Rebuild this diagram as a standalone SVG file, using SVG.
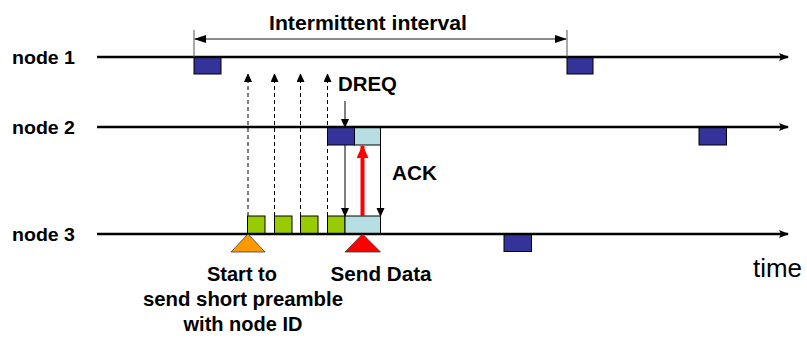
<svg xmlns="http://www.w3.org/2000/svg" width="807" height="338" viewBox="0 0 807 338">
  <defs>
    <style>
      .lbl { font-family: "Liberation Sans", Arial, Helvetica, sans-serif; font-weight: bold; fill: #000; }
      .axis { stroke: #000; stroke-width: 2.5; fill: none; }
      .slot { stroke: #000; stroke-width: 1; }
      .wake { fill: #333399; }
      .ack { fill: #B7DEE2; }
      .pre { fill: #99CC00; }
      .dash { stroke: #000; stroke-width: 1; stroke-dasharray: 4 3; fill: none; }
      .thin { stroke: #000; stroke-width: 1; fill: none; }
    </style>
    <marker id="axisHead" markerWidth="10" markerHeight="8" refX="9" refY="4" orient="auto" markerUnits="userSpaceOnUse">
      <path d="M0,0 L10,4 L0,8 L2,4 Z" fill="#000"/>
    </marker>
    <marker id="smallHead" markerWidth="8" markerHeight="10" refX="8" refY="4" orient="auto" markerUnits="userSpaceOnUse">
      <path d="M0,0 L9,4 L0,8 Z" fill="#000"/>
    </marker>
    <marker id="spanHead" markerWidth="12" markerHeight="8" refX="11" refY="4" orient="auto-start-reverse" markerUnits="userSpaceOnUse">
      <path d="M0,0 L12,4 L0,8 Z" fill="#000"/>
    </marker>
    <marker id="redHead" markerWidth="13" markerHeight="12" refX="12" refY="6" orient="auto" markerUnits="userSpaceOnUse">
      <path d="M0,0 L13,6 L0,12 Z" fill="#FF0000"/>
    </marker>
  </defs>

  <!-- node 1 timeline -->
  <g id="node1">
    <rect class="slot wake" x="194" y="57" width="27" height="17"/>
    <rect class="slot wake" x="567" y="57" width="26" height="17"/>
    <line class="axis" x1="97" y1="57" x2="788" y2="57" marker-end="url(#axisHead)"/>
    <text class="lbl" x="12" y="64" font-size="19" textLength="63" lengthAdjust="spacingAndGlyphs">node 1</text>
  </g>

  <!-- node 2 timeline -->
  <g id="node2">
    <rect class="slot wake" x="327.5" y="127" width="27" height="18"/>
    <rect class="slot ack" x="354.5" y="127" width="26" height="18"/>
    <rect class="slot wake" x="699" y="127" width="27.5" height="18"/>
    <line class="axis" x1="97" y1="127" x2="788" y2="127" marker-end="url(#axisHead)"/>
    <text class="lbl" x="12" y="134" font-size="19" textLength="63" lengthAdjust="spacingAndGlyphs">node 2</text>
  </g>

  <!-- node 3 timeline -->
  <g id="node3">
    <rect class="slot pre" x="247.5" y="216" width="17.5" height="18"/>
    <rect class="slot pre" x="274.5" y="216" width="17.5" height="18"/>
    <rect class="slot pre" x="300.5" y="216" width="17.5" height="18"/>
    <rect class="slot pre" x="327.5" y="216" width="17.5" height="18"/>
    <rect class="slot ack" x="345" y="216" width="35.5" height="18"/>
    <rect class="slot wake" x="504" y="234" width="27.5" height="17.5"/>
    <line class="axis" x1="97" y1="234" x2="788" y2="234" marker-end="url(#axisHead)"/>
    <text class="lbl" x="12" y="241" font-size="19" textLength="63" lengthAdjust="spacingAndGlyphs">node 3</text>
  </g>

  <!-- connectors -->
  <g id="connectors">
    <!-- intermittent interval span -->
    <line x1="194" y1="30" x2="194" y2="57" stroke="#555" stroke-width="1"/>
    <line x1="567" y1="30" x2="567" y2="57" stroke="#555" stroke-width="1"/>
    <line x1="195" y1="39" x2="566" y2="39" stroke="#666" stroke-width="1.5" marker-start="url(#spanHead)" marker-end="url(#spanHead)"/>
    <!-- short preambles -->
    <line class="dash" x1="248" y1="216" x2="248" y2="74" marker-end="url(#smallHead)"/>
    <line class="dash" x1="274.5" y1="216" x2="274.5" y2="74" marker-end="url(#smallHead)"/>
    <line class="dash" x1="300.5" y1="216" x2="300.5" y2="74" marker-end="url(#smallHead)"/>
    <line class="dash" x1="327.5" y1="216" x2="327.5" y2="74" marker-end="url(#smallHead)"/>
    <!-- DREQ -->
    <line class="thin" x1="345" y1="101" x2="345" y2="127" marker-end="url(#smallHead)"/>
    <!-- data transfer boundaries -->
    <line class="thin" x1="345" y1="145" x2="345" y2="216" marker-end="url(#smallHead)"/>
    <line class="thin" x1="380.5" y1="145" x2="380.5" y2="216" marker-end="url(#smallHead)"/>
    <!-- ACK -->
    <line x1="362.5" y1="216" x2="362.5" y2="146" stroke="#FF0000" stroke-width="4" marker-end="url(#redHead)"/>
  </g>

  <!-- triggers -->
  <g id="startPreamble">
    <path d="M248,234 L265,252 L231,252 Z" fill="#FF9900" stroke="#333" stroke-width="0.75"/>
  </g>
  <g id="sendData">
    <path d="M362.5,234 L380.5,252 L345,252 Z" fill="#FF0000" stroke="#333" stroke-width="0.75"/>
  </g>

  <!-- labels -->
  <g id="labels">
    <text class="lbl" x="368" y="30" font-size="21" text-anchor="middle" textLength="198" lengthAdjust="spacingAndGlyphs">Intermittent interval</text>
    <text class="lbl" x="338" y="91" font-size="20" textLength="59" lengthAdjust="spacingAndGlyphs">DREQ</text>
    <text class="lbl" x="392" y="180" font-size="20" textLength="45" lengthAdjust="spacingAndGlyphs">ACK</text>
    <text class="lbl" x="242" y="281" font-size="20" text-anchor="middle">Start to</text>
    <text class="lbl" x="243" y="306" font-size="20" text-anchor="middle" textLength="200" lengthAdjust="spacingAndGlyphs">send short preamble</text>
    <text class="lbl" x="243" y="331" font-size="20" text-anchor="middle">with node ID</text>
    <text class="lbl" x="381" y="281" font-size="20" text-anchor="middle" textLength="101" lengthAdjust="spacingAndGlyphs">Send Data</text>
    <text x="753" y="277" font-family="'Liberation Sans', Arial, Helvetica, sans-serif" font-size="26" textLength="49" lengthAdjust="spacingAndGlyphs" fill="#000">time</text>
  </g>
</svg>
